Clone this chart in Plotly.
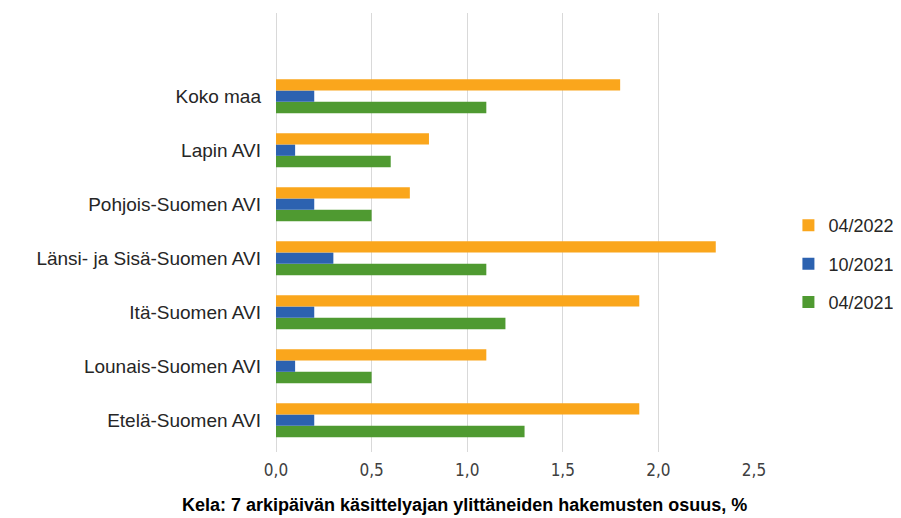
import plotly.graph_objects as go

categories = ["Etelä-Suomen AVI", "Lounais-Suomen AVI", "Itä-Suomen AVI",
              "Länsi- ja Sisä-Suomen AVI", "Pohjois-Suomen AVI", "Lapin AVI", "Koko maa"]
s_2022_04 = [1.9, 1.1, 1.9, 2.3, 0.7, 0.8, 1.8]
s_2021_10 = [0.2, 0.1, 0.2, 0.3, 0.2, 0.1, 0.2]
s_2021_04 = [1.3, 0.5, 1.2, 1.1, 0.5, 0.6, 1.1]
series_names = ["04/2021", "10/2021", "04/2022"]
legend_ranks = [3, 2, 1]
colors = ["#4F9A31", "#2C62B0", "#FAA61C"]
tick_vals = [0, 0.5, 1.0, 1.5, 2.0, 2.5]
x_title = "Kela: 7 arkipäivän käsittelyajan ylittäneiden hakemusten osuus, %"

narrow = "DejaVu Sans Condensed, Liberation Sans Narrow, Arial Narrow, Liberation Sans, sans-serif"

fig = go.Figure()
for name, vals, col, rk in zip(series_names, [s_2021_04, s_2021_10, s_2022_04], colors, legend_ranks):
    fig.add_trace(go.Bar(y=categories, x=vals, name=name, orientation="h",
                         marker=dict(color=col, line=dict(width=0)),
                         legendgroup=name, legendrank=rk))

fig.add_annotation(text="<b>" + x_title + "</b>", xref="paper", yref="paper",
                   x=0.395, y=-0.121, xanchor="center", yanchor="middle",
                   showarrow=False,
                   font=dict(family="Liberation Sans, Arial, sans-serif", size=18, color="#000000"))

fig.update_layout(
    width=893, height=510,
    margin=dict(l=268, r=147, t=5, b=66, autoexpand=False),
    paper_bgcolor="white", plot_bgcolor="white",
    barmode="group", bargap=0.37, bargroupgap=0,
    separators=", ",
    font=dict(family="Liberation Sans, Arial, sans-serif", size=18, color="#262626"),
    xaxis=dict(range=[0, 2.5], tickvals=tick_vals, tickformat=".1f",
               showgrid=True, gridcolor="#D9D9D9", gridwidth=1,
               zeroline=True, zerolinecolor="#D9D9D9", zerolinewidth=1,
               showline=False, ticks="", fixedrange=True, automargin=False,
               ticklabelstandoff=6,
               tickfont=dict(family=narrow, size=17, color="#404040")),
    yaxis=dict(type="category", range=[-0.59, 7.54], showgrid=False, showline=False,
               ticks="", ticklabelstandoff=14, automargin=False,
               tickfont=dict(size=19, color="#262626")),
    legend=dict(x=1.072, y=0.428, xanchor="left", yanchor="middle",
                traceorder="grouped", tracegroupgap=12,
                font=dict(size=18, color="#262626"), itemwidth=30),
    showlegend=True,
)

fig.write_html("out.html")
